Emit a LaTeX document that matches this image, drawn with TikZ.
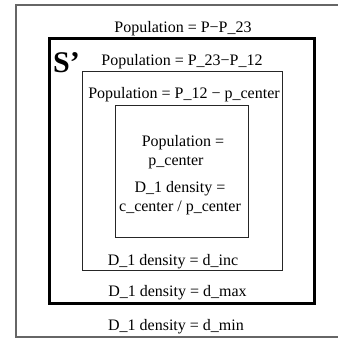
\documentclass[tikz,border=0pt]{standalone}
\usepackage{fontspec}
\setmainfont{Liberation Serif}
\begin{document}
\begin{tikzpicture}[x=1pt,y=-1pt,
  lbl/.style={inner sep=0pt,anchor=base,font=\fontsize{16}{19}\selectfont},
  outerbox/.style={draw=black!60,line width=1.2pt},
  thickbox/.style={draw=black,line width=3pt},
  thinbox/.style={draw=black!85,line width=1pt}]
\useasboundingbox (0,0) rectangle (338,341);
\clip (0,0) rectangle (338,341);
\draw[outerbox] (345,5) -- (16,5) -- (16,337) -- (345,337);
\draw[thickbox] (49,38) rectangle (314,303);
\draw[thinbox] (82,71) rectangle (282,270);
\draw[thinbox] (115,105) rectangle (248,237);
\node[lbl] (t1) at (183,32) {Population = P−P\_23};
\node[inner sep=0pt,anchor=base west,font=\fontsize{30}{30}\selectfont\bfseries] (s) at (53,72) {S’};
\node[lbl] (t2) at (182,65) {Population = P\_23−P\_12};
\node[lbl] (t3) at (184,98) {Population = P\_12 − p\_center};
\node[lbl] (t4) at (183,146) {Population =};
\node[lbl] (t5) at (176,165) {p\_center};
\node[lbl] (t6) at (180,192) {D\_1 density =};
\node[lbl] (t7) at (180,211) {c\_center / p\_center};
\node[lbl] (t8) at (173,265) {D\_1 density = d\_inc};
\node[lbl] (t9) at (177.5,296) {D\_1 density = d\_max};
\node[lbl] (t10) at (176,330) {D\_1 density = d\_min};
\end{tikzpicture}
\end{document}
